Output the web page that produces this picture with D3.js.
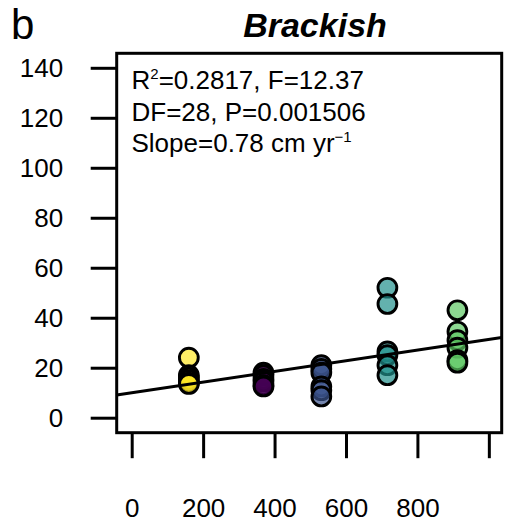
<!DOCTYPE html>
<html>
<head>
<meta charset="utf-8">
<script src="https://cdn.jsdelivr.net/npm/d3@7"></script>
<style>
  html, body { margin: 0; padding: 0; background: #fff; }
  svg { display: block; }
  text { font-family: "Liberation Sans", Arial, Helvetica, sans-serif; fill: #000; }
</style>
</head>
<body>
<svg id="chart" width="512" height="527"></svg>
<script>
// ---- data ----
const groupX      = [160, 369, 531, 716, 912];
const groupColors = ["#FDE725", "#440154", "#3B528B", "#21908C", "#5DC863"];
const yellowVals  = [24, 17, 16, 15, 14, 13.5];
const purpleVals  = [18, 17, 15.5, 14.5, 13, 12.5];
const blueVals    = [21, 19.5, 18, 12.5, 11, 8.5];
const tealVals    = [52, 45.5, 26.5, 25, 21, 17];
const greenVals   = [43, 34.5, 31, 28, 23, 22];
const groupVals   = [yellowVals, purpleVals, blueVals, tealVals, greenVals];

const fitIntercept = 10.0;
const fitSlope     = 0.0213;

const xTicks      = [0, 200, 400, 600, 800, 1000];
const xTickLabels = ["0", "200", "400", "600", "800", ""];
const yTicks      = [0, 20, 40, 60, 80, 100, 120, 140];

const panelLetter = "b";
const title       = "Brackish";
const statLines   = [
  [{t: "R"}, {t: "2", sup: true}, {t: "=0.2817, F=12.37"}],
  [{t: "DF=28, P=0.001506"}],
  [{t: "Slope=0.78 cm yr"}, {t: "\u22121", sup: true}]
];

// ---- layout ----
const box = {left: 116.7, right: 501.7, top: 53.3, bottom: 432.7};
const svg = d3.select("#chart");
const FONT = '"Liberation Sans", Arial, Helvetica, sans-serif';

const x = d3.scaleLinear().domain([-42, 1036]).range([box.left, box.right]);
const y = d3.scaleLinear().domain([-6, 145.8]).range([box.bottom, box.top]);

// clip
svg.append("defs").append("clipPath").attr("id", "plotclip")
  .append("rect")
  .attr("x", box.left).attr("y", box.top)
  .attr("width", box.right - box.left).attr("height", box.bottom - box.top);

// points
const pts = [];
groupVals.forEach((vals, gi) => vals.forEach(v => pts.push({x: groupX[gi], y: v, c: groupColors[gi]})));

const plot = svg.append("g").attr("clip-path", "url(#plotclip)");
plot.selectAll("circle.pt").data(pts).enter().append("circle")
  .attr("class", "pt")
  .attr("cx", d => x(d.x)).attr("cy", d => y(d.y)).attr("r", 9.4)
  .attr("fill", d => d.c).attr("fill-opacity", 0.7)
  .attr("stroke", "#000").attr("stroke-width", 2.9);

// regression line
const xd = x.domain();
plot.append("line")
  .attr("x1", x(xd[0])).attr("y1", y(fitIntercept + fitSlope * xd[0]))
  .attr("x2", x(xd[1])).attr("y2", y(fitIntercept + fitSlope * xd[1]))
  .attr("stroke", "#000").attr("stroke-width", 3);

// box
svg.append("rect")
  .attr("x", box.left).attr("y", box.top)
  .attr("width", box.right - box.left).attr("height", box.bottom - box.top)
  .attr("fill", "none").attr("stroke", "#000").attr("stroke-width", 3);

// y axis
const yAxis = d3.axisLeft(y).tickValues(yTicks).tickSize(26).tickPadding(27.5).tickFormat(d3.format("d"));
const gy = svg.append("g").attr("transform", `translate(${box.left},0)`).call(yAxis);
gy.select(".domain").remove();
gy.selectAll(".tick line").attr("stroke", "#000").attr("stroke-width", 3);
gy.selectAll(".tick text").attr("font-size", 26).attr("fill", "#000").attr("font-family", FONT);

// x axis
const xAxis = d3.axisBottom(x).tickValues(xTicks).tickSize(25).tickPadding(40)
  .tickFormat((d, i) => xTickLabels[i]);
const gx = svg.append("g").attr("transform", `translate(0,${box.bottom + 0.5})`).call(xAxis);
gx.select(".domain").remove();
gx.selectAll(".tick line").attr("stroke", "#000").attr("stroke-width", 3);
gx.selectAll(".tick text").attr("font-size", 26).attr("fill", "#000").attr("font-family", FONT);

// panel letter
svg.append("text").attr("x", 11).attr("y", 38.5).attr("font-size", 42).text(panelLetter);

// title
svg.append("text").attr("x", 315).attr("y", 36.7).attr("text-anchor", "middle")
  .attr("font-size", 34).attr("font-weight", "bold").attr("font-style", "italic").text(title);

// stats
const baselines = [89.3, 120.7, 151.7];
statLines.forEach((parts, i) => {
  const t = svg.append("text").attr("x", 131.5).attr("y", baselines[i]).attr("font-size", 26);
  parts.forEach(p => {
    if (p.sup) {
      t.append("tspan").attr("font-size", 15).attr("dy", -10).text(p.t);
    } else {
      t.append("tspan").attr("y", baselines[i]).text(p.t);
    }
  });
});
</script>
</body>
</html>
